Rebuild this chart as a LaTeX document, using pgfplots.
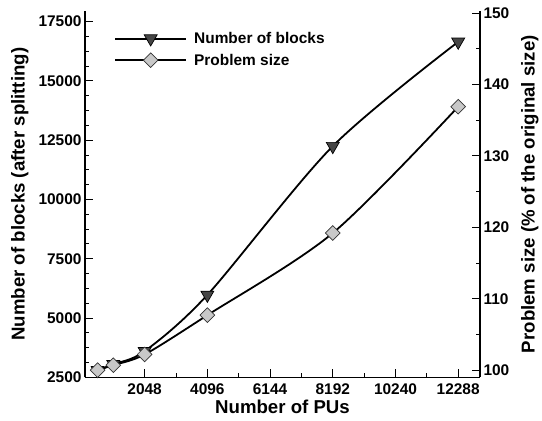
\documentclass[border=0pt]{standalone}
\usepackage{pgfplots}
\pgfplotsset{compat=1.18}
\usepackage{fontspec}
\setmainfont{Liberation Sans}
\usetikzlibrary{calc}
\definecolor{tri}{HTML}{454545}
\definecolor{dia}{HTML}{C8C8C8}
\begin{document}
\begin{tikzpicture}
\pgfplotsset{
  every axis/.append style={
    scale only axis, width=395bp, height=366.3bp,
    xmin=100, xmax=13000,
    tick align=inside,
    major tick length=8bp, minor tick length=4.5bp,
    every tick/.style={black, line width=0.9bp},
    axis line style={line width=1.1bp, black},
    tick label style={font=\fontsize{15.5}{18}\selectfont\bfseries},
    /pgf/number format/assume math mode=true,
    /pgf/number format/set thousands separator={},
    scaled ticks=false,
  },
  dstyle/.style={black, line width=1.8bp, mark=square*, mark size=5.2bp,
    mark options={solid, rotate=45, fill=dia, draw=black!80, line width=0.7bp}},
  tstyle/.style={black, line width=1.8bp, mark=triangle*, mark size=7.5bp,
    mark options={solid, rotate=180, fill=tri, draw=black, line width=0.7bp}},
}
\begin{axis}[name=ax,
  axis x line*=bottom, axis y line*=left,
  ymin=2500, ymax=17950,
  xtick={2048,4096,6144,8192,10240,12288},
  minor xtick={3072,5120,7168,9216,11264},
  ytick={2500,5000,7500,10000,12500,15000,17500},
  minor y tick num=3,
  xlabel={Number of PUs},
  ylabel={Number of blocks (after splitting)},
  xlabel style={font=\fontsize{18.7}{21}\selectfont\bfseries, yshift=2bp},
  xticklabel style={yshift=-3bp},
  ylabel style={font=\fontsize{18.7}{21}\selectfont\bfseries, yshift=3bp},
  legend style={draw=none, fill=none, at={(0,1)}, anchor=north west,
    xshift=26bp, yshift=-17bp, font=\fontsize{15.5}{18}\selectfont\bfseries,
    row sep=5bp, column sep=5bp},
  legend cell align=left,
  legend image code/.code={\draw[mark repeat=2, mark phase=2, #1, line width=2bp] plot coordinates {(0bp,0bp) (35.5bp,0bp) (71bp,0bp)};},
]
\addplot[tstyle, smooth]
  coordinates {(512,2800) (1024,3050) (2048,3600) (4096,5975) (8192,12250) (12288,16650)};
\addlegendentry{Number of blocks}
\addlegendimage{dstyle}
\addlegendentry{Problem size}
\end{axis}
\begin{axis}[
  axis y line*=right, axis x line=none,
  ymin=99, ymax=150.3,
  ytick={100,110,120,130,140,150},
  minor y tick num=1,
  ylabel={Problem size (\% of the original size)},
  ylabel style={font=\fontsize{18.7}{21}\selectfont\bfseries, yshift=-5bp},
]
\addplot[dstyle, smooth]
  coordinates {(512,100) (1024,100.7) (2048,102.2) (4096,107.7) (8192,119.2) (12288,136.9)};
\end{axis}
\path ($(ax.south west)+(-85bp,-43.7bp)$) rectangle ($(ax.north east)+(62bp,11bp)$);
\end{tikzpicture}
\end{document}
